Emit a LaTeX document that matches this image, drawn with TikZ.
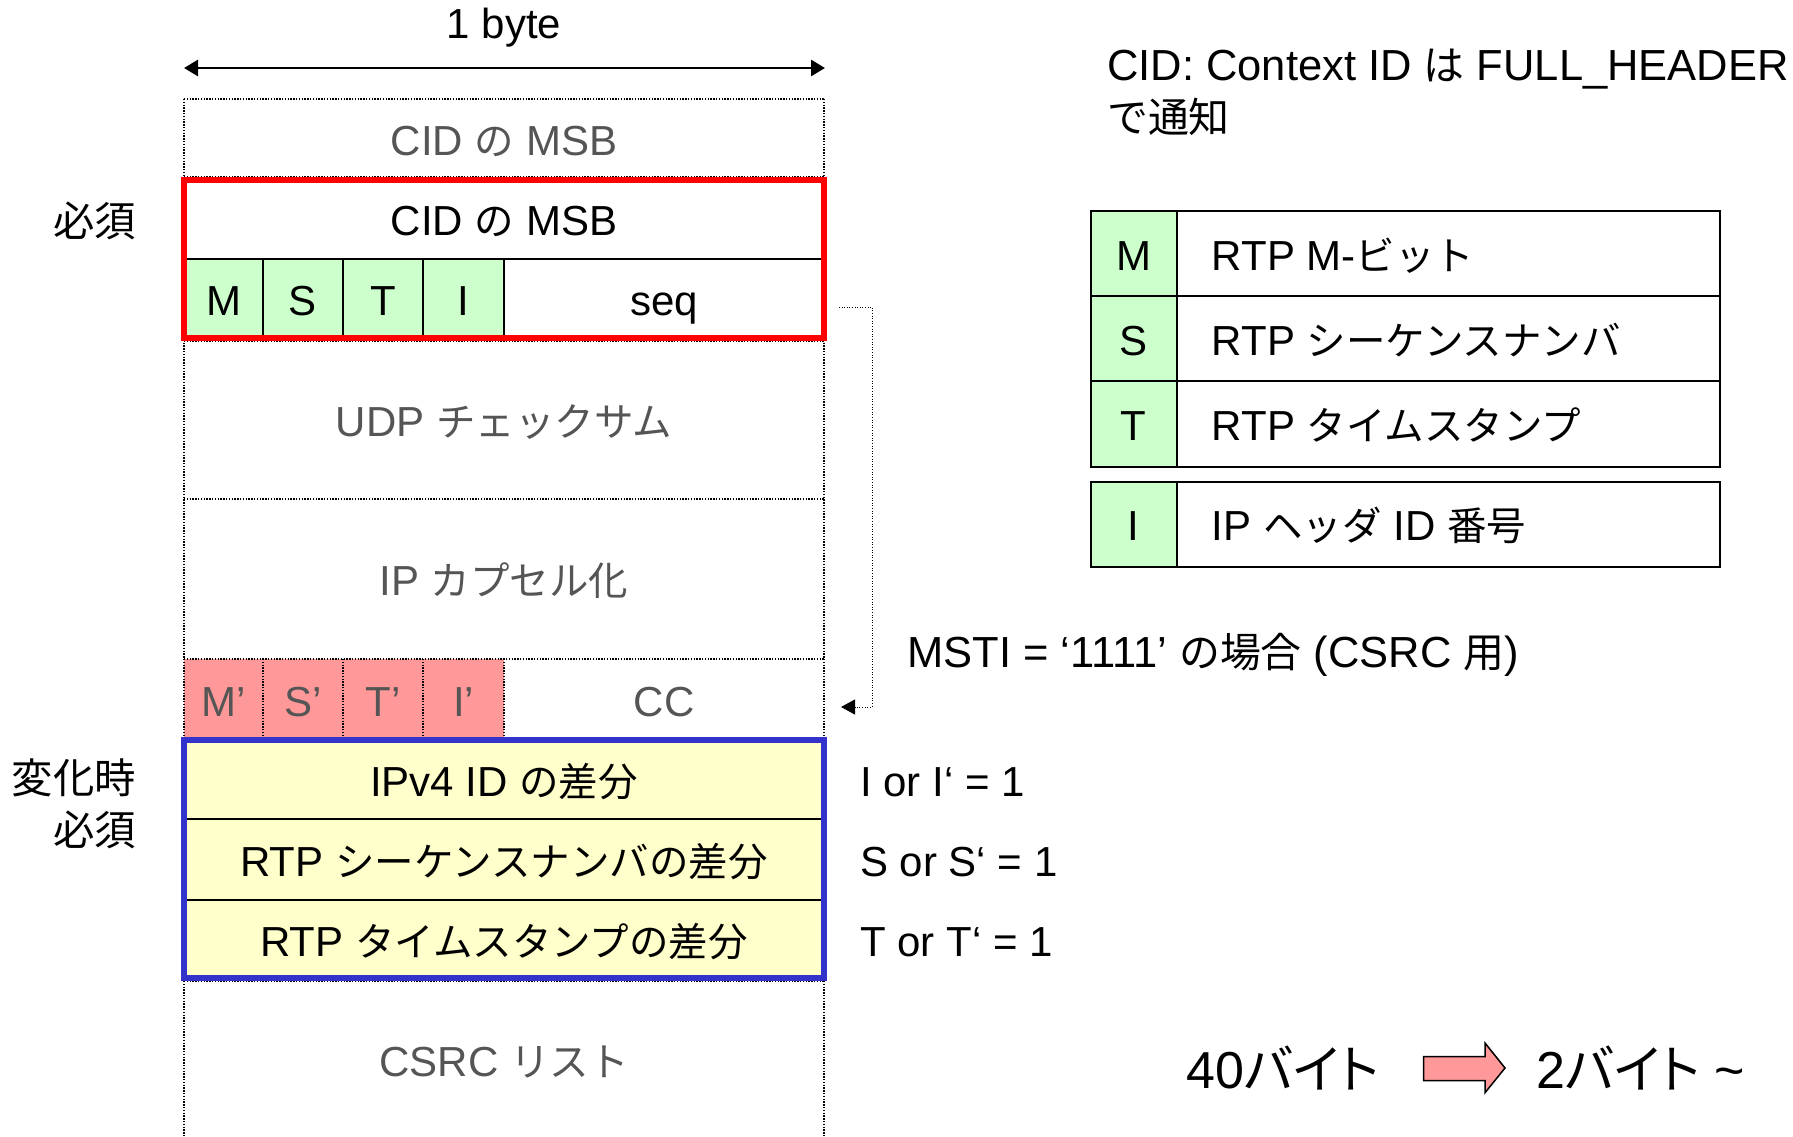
\documentclass[tikz,border=0pt]{standalone}
\usepackage{fontspec}
\setmainfont{Liberation Sans}
\newfontfamily\jpfont{Noto Sans CJK JP}[Scale=0.94]
\newfontfamily\jpfontp{Noto Sans CJK JP}[RawFeature=+palt]
\newcommand\JP[1]{{\jpfont #1}}
\newcommand\JPp[1]{{\jpfontp #1}}
\usetikzlibrary{arrows.meta}
\definecolor{cellgreen}{HTML}{CCFFCC}
\definecolor{cellpink}{HTML}{FF9999}
\definecolor{cellyellow}{HTML}{FFFFCC}
\definecolor{boxblue}{HTML}{3333CC}
\definecolor{boxred}{HTML}{FF0000}
\definecolor{txtgray}{HTML}{555555}
\begin{document}
\begin{tikzpicture}[x=1pt,y=-1pt,
  txt/.style={inner sep=0pt, font=\fontsize{42}{50}\selectfont},
  gtxt/.style={txt, text=txtgray},
  lbl/.style={inner sep=0pt, font=\fontsize{44}{52}\selectfont},
  bigtxt/.style={inner sep=0pt, font=\fontsize{43.5}{52}\selectfont},
  hugetxt/.style={inner sep=0pt, font=\fontsize{52}{60}\selectfont},
  dotline/.style={line width=1.5pt, dash pattern=on 1.4pt off 1.4pt},
  conn/.style={line width=1pt, dash pattern=on 1pt off 1.6pt},
  sepline/.style={line width=2pt},
  tbl/.style={line width=2pt},
  widtharrow/.style={line width=2.7pt, {Triangle[length=14pt,width=16pt]}-{Triangle[length=14pt,width=16pt]}}
]
\fill[white] (0,0) rectangle (1793,1136);
\useasboundingbox (0,0) rectangle (1793,1136);

% fills
\fill[cellgreen] (184,259) rectangle (504,338);
\fill[cellpink] (184,659) rectangle (504,740);
\fill[cellyellow] (184,740) rectangle (824,978);

% dotted column frame
\draw[dotline] (184,99) -- (184,1136);
\draw[dotline] (824,99) -- (824,1136);
\draw[dotline] (184,99) -- (824,99);
\draw[dotline] (184,177) -- (824,177);
\draw[dotline] (184,341) -- (824,341);
\draw[dotline] (184,499) -- (824,499);
\draw[dotline] (184,659) -- (824,659);
\draw[dotline] (184,981) -- (824,981);
\foreach \x in {263,343,423,504} \draw[dotline] (\x,659) -- (\x,740);

% red box
\draw[sepline] (184,259) -- (824,259);
\foreach \x in {263,343,423,504} \draw[sepline] (\x,259) -- (\x,338);
\draw[boxred, line width=6pt] (184,180) rectangle (824,338);

% blue box
\draw[sepline] (184,819.3) -- (824,819.3) (184,900) -- (824,900);
\draw[boxblue, line width=6pt] (184,740) rectangle (824,978);

% width arrow
\coordinate (bl) at (184,68);
\coordinate (br) at (825,68);
\draw[widtharrow] (bl) -- (br);
\node[txt, anchor=base] (byte) at (504,38) {1 byte};

% column texts
\node[gtxt, anchor=base] (cid1) at (504,155) {CID \JP{の} MSB};
\node[txt, anchor=base] (cid2) at (504,235) {CID \JP{の} MSB};
\node[txt, anchor=base] (fm) at (223.5,315) {M};
\node[txt, anchor=base] (fs) at (303,315) {S};
\node[txt, anchor=base] (ft) at (383,315) {T};
\node[txt, anchor=base] (fi) at (463.5,315) {I};
\node[txt, anchor=base] (seq) at (664,315) {seq};
\node[gtxt, anchor=base] (udp) at (504,436) {UDP \JP{チェックサム}};
\node[gtxt, anchor=base] (ipc) at (504,595) {IP \JP{カプセル化}};
\node[gtxt, anchor=base] (fm2) at (223.5,716) {M’};
\node[gtxt, anchor=base] (fs2) at (303,716) {S’};
\node[gtxt, anchor=base] (ft2) at (383,716) {T’};
\node[gtxt, anchor=base] (fi2) at (463.5,716) {I’};
\node[gtxt, anchor=base] (cc) at (664,716) {CC};
\node[txt, anchor=base] (d1) at (504,796) {IPv4 ID \JP{の差分}};
\node[txt, anchor=base] (d2) at (504,876) {RTP \JP{シーケンスナンバの差分}};
\node[txt, anchor=base] (d3) at (504,956) {RTP \JP{タイムスタンプの差分}};
\node[gtxt, anchor=base] (csrc) at (504,1076) {CSRC \JP{リスト}};

% left labels
\node[lbl, anchor=east] (req1) at (136,221) {\JP{必須}};
\node[lbl, anchor=east] (chg) at (136,778) {\JP{変化時}};
\node[lbl, anchor=east] (req2) at (136,830) {\JP{必須}};

% dotted connector
\coordinate (cs) at (839,307);
\coordinate (cm) at (872,707);
\coordinate (ce) at (841,707);
\draw[conn, -{Triangle[length=14pt,width=15pt]}] (cs) -| (cm) -- (ce);

% right header
\node[bigtxt, anchor=base west] (h1) at (1107,80) {CID: Context ID \JP{は} FULL\_HEADER};
\node[bigtxt, anchor=base west] (h2) at (1107,132) {\JP{で通知}};

% legend table
\fill[cellgreen] (1090.7,210.7) rectangle (1176.7,466.7);
\fill[cellgreen] (1090.7,481.7) rectangle (1176.7,566.7);
\draw[tbl] (1090.7,210.7) rectangle (1720,466.7);
\draw[tbl] (1090.7,295.7) -- (1720,295.7) (1090.7,381) -- (1720,381);
\draw[tbl] (1176.7,210.7) -- (1176.7,466.7);
\draw[tbl] (1090.7,481.7) rectangle (1720,566.7);
\draw[tbl] (1176.7,481.7) -- (1176.7,566.7);
\node[txt, anchor=base] (lm) at (1133.7,270) {M};
\node[txt, anchor=base] (ls) at (1133.7,355) {S};
\node[txt, anchor=base] (lt) at (1133.7,440) {T};
\node[txt, anchor=base] (li) at (1133.7,540) {I};
\node[txt, anchor=base west] (tm) at (1211.7,270) {RTP M-\JP{ビット}};
\node[txt, anchor=base west] (ts) at (1211.7,355) {RTP \JP{シーケンスナンバ}};
\node[txt, anchor=base west] (tt) at (1211.7,440) {RTP \JP{タイムスタンプ}};
\node[txt, anchor=base west] (ti) at (1211.7,540) {IP \JP{ヘッダ} ID \JP{番号}};

% MSTI note and conditions
\node[bigtxt, anchor=base west] (msti) at (907,667) {MSTI = ‘1111’ \JP{の場合} (CSRC \JP{用})};
\node[txt, anchor=base west] (ci) at (860,796) {I or I‘ = 1};
\node[txt, anchor=base west] (cs2) at (860,876) {S or S‘ = 1};
\node[txt, anchor=base west] (ct) at (860,956) {T or T‘ = 1};

% bottom summary
\node[hugetxt, anchor=base west] (b40) at (1186,1088) {40\JPp{バイト}};
\draw[fill=cellpink, line width=1.5pt] (1423.6,1056.7) -- (1485,1056.7) -- (1485,1043) -- (1505,1068) -- (1485,1092.7) -- (1485,1080.7) -- (1423.6,1080.7) -- cycle;
\node[hugetxt, anchor=base west] (b2) at (1536,1088) {2\JPp{バイト} \textasciitilde};
\end{tikzpicture}
\end{document}
